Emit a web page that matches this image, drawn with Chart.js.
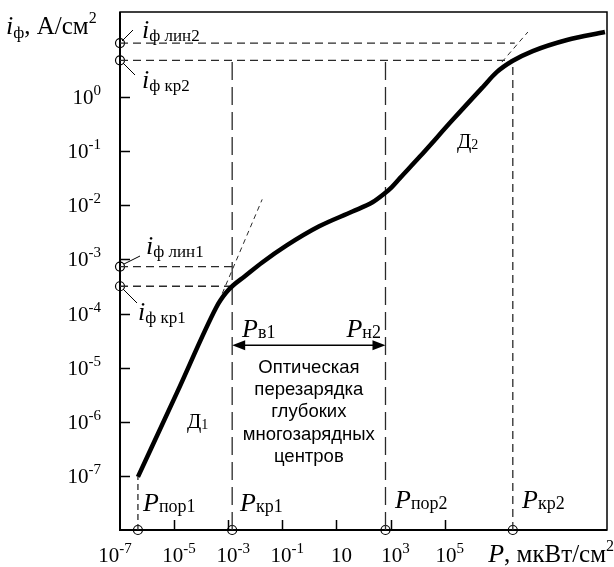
<!DOCTYPE html>
<html>
<head>
<meta charset="utf-8">
<script src="https://cdn.jsdelivr.net/npm/chart.js@4.4.0/dist/chart.umd.min.js"></script>
<style>
  body { margin: 0; background: #fff; }
  canvas { display: block; }
</style>
</head>
<body>
<canvas id="vac" width="614" height="567"></canvas>
<script>
// кривая i_ф(P), значения
const curveP = [4.6e-7, 1.29e-5, 3.6e-4, 5.1e-4, 8.4e-4, 1.5e-3, 3.9e-3, 0.018, 0.14, 2.3, 39, 215, 550, 1090, 2220, 1.19e4, 1.98e5, 2.55e6, 8.4e6, 3.3e7, 1.8e8, 3.3e9, 8.4e10];
const curveI = [9.6e-8, 3.5e-6, 1.3e-4, 1.74e-4, 2.45e-4, 3.3e-4, 4.8e-4, 8.8e-4, 1.8e-3, 4.1e-3, 7.7e-3, 0.0114, 0.016, 0.0216, 0.0319, 0.079, 0.381, 1.53, 2.9, 4.7, 7.1, 11.4, 16];

// касательные к линейным участкам
const tan1P = [6e-4, 0.018];
const tan1I = [2.35e-4, 0.0129];
const tan2P = [1.3e7, 1.19e8];
const tan2I = [4.45, 16];

// характерные мощности: P_пор1, P_кр1, P_пор2, P_кр2
const critP = [4.6e-7, 1.4e-3, 650, 3.3e7];
// характерные токи: i_лин2, i_кр2, i_лин1, i_кр1
const critI = [10, 4.8, 7.4e-4, 3.2e-4];
const lin2EndP = 3.9e7;

const xTickExp = [-7, -5, -3, -1, 1, 3, 5];
const yTickExp = [0, -1, -2, -3, -4, -5, -6, -7];
const arrowI = 2.6e-5;

const xMin = 1e-7, xMax = 1e11, yMin = 1e-8, yMax = 37.5;

const SERIF = '"Liberation Serif", "Times New Roman", serif';
const SANS = '"Liberation Sans", Arial, sans-serif';

const pts = (xs, ys) => xs.map((v, i) => ({ x: v, y: ys[i] }));
const seg = (x1, y1, x2, y2) => [{ x: x1, y: y1 }, { x: x2, y: y2 }];

function guide(data, dash) {
  return { data, borderColor: '#2a2a2a', borderWidth: 1.3, borderDash: dash, pointRadius: 0, fill: false, tension: 0 };
}

function rich(ctx, parts, x, y, align) {
  let w = 0;
  parts.forEach(p => { ctx.font = p.f; p.w = ctx.measureText(p.t).width; w += p.w; });
  let cx = align === 'right' ? x - w : align === 'center' ? x - w / 2 : x;
  ctx.textAlign = 'left';
  ctx.textBaseline = 'alphabetic';
  parts.forEach(p => { ctx.font = p.f; ctx.fillText(p.t, cx, y + (p.dy || 0)); cx += p.w; });
}

const big = '21px ' + SERIF, sup = '15px ' + SERIF;
const it = 'italic 26px ' + SERIF, sub = '18px ' + SERIF;
const itI = 'italic 26px ' + SERIF, subI = '17px ' + SERIF;

const tenPow = e => e === 1 ? [{ t: '10', f: big }] : [{ t: '10', f: big }, { t: String(e), f: sup, dy: -9 }];

const overlay = {
  id: 'overlay',
  beforeDatasetsDraw(chart) {
    const { ctx, chartArea: a, scales: { x, y } } = chart;
    ctx.save();
    ctx.strokeStyle = '#000';
    ctx.lineWidth = 1.5;
    ctx.strokeRect(a.left, a.top, a.right - a.left, a.bottom - a.top);
    ctx.lineWidth = 2;
    ctx.beginPath();
    ctx.moveTo(a.left, a.top); ctx.lineTo(a.left, a.bottom); ctx.lineTo(a.right, a.bottom);
    ctx.stroke();
    ctx.lineWidth = 1.5;
    ctx.beginPath();
    yTickExp.forEach(e => {
      const py = Math.round(y.getPixelForValue(Math.pow(10, e))) + 0.5;
      ctx.moveTo(a.left, py); ctx.lineTo(a.left + 10, py);
    });
    xTickExp.slice(1).forEach(e => {
      const px = Math.round(x.getPixelForValue(Math.pow(10, e))) + 0.5;
      ctx.moveTo(px, a.bottom); ctx.lineTo(px, a.bottom - 10);
    });
    ctx.stroke();
    ctx.restore();
  },
  afterDraw(chart) {
    const { ctx, chartArea: a, scales: { x, y } } = chart;
    ctx.save();
    ctx.fillStyle = '#000';
    ctx.strokeStyle = '#000';

    // подписи делений
    yTickExp.forEach(e => rich(ctx, tenPow(e), a.left - 19, y.getPixelForValue(Math.pow(10, e)) + 7, 'right'));
    xTickExp.forEach(e => rich(ctx, tenPow(e), x.getPixelForValue(Math.pow(10, e)) + (e === -7 ? -5 : 5), a.bottom + 32, 'center'));

    // названия осей
    rich(ctx, [{ t: 'i', f: itI }, { t: 'ф', f: subI, dy: 4 }, { t: ', А/см', f: '25px ' + SERIF }, { t: '2', f: '16px ' + SERIF, dy: -11 }], 6, 34, 'left');
    rich(ctx, [{ t: 'P', f: it }, { t: ', мкВт/см', f: '25px ' + SERIF }, { t: '2', f: '16px ' + SERIF, dy: -11 }], 614, a.bottom + 32, 'right');

    // подписи токов у оси
    rich(ctx, [{ t: 'i', f: itI }, { t: 'ф лин2', f: subI, dy: 3 }], 142, 38);
    rich(ctx, [{ t: 'i', f: itI }, { t: 'ф кр2', f: subI, dy: 3 }], 142, 88);
    rich(ctx, [{ t: 'i', f: itI }, { t: 'ф лин1', f: subI, dy: 3 }], 146, 254);
    rich(ctx, [{ t: 'i', f: itI }, { t: 'ф кр1', f: subI, dy: 3 }], 138, 320);
    ctx.lineWidth = 1;
    ctx.beginPath();
    ctx.moveTo(122, 41); ctx.lineTo(133, 30);
    ctx.moveTo(123, 63); ctx.lineTo(135, 75);
    ctx.moveTo(124, 264); ctx.lineTo(140, 256);
    ctx.moveTo(123, 289); ctx.lineTo(137, 303);
    ctx.stroke();

    // подписи мощностей
    rich(ctx, [{ t: 'P', f: it }, { t: 'пор1', f: sub, dy: 1 }], 143, 511);
    rich(ctx, [{ t: 'P', f: it }, { t: 'кр1', f: sub, dy: 1 }], 240, 511);
    rich(ctx, [{ t: 'P', f: it }, { t: 'пор2', f: sub, dy: 1 }], 395, 508);
    rich(ctx, [{ t: 'P', f: it }, { t: 'кр2', f: sub, dy: 1 }], 522, 508);
    rich(ctx, [{ t: 'P', f: it }, { t: 'в1', f: sub, dy: 1 }], 242, 337);
    rich(ctx, [{ t: 'P', f: it }, { t: 'н2', f: sub, dy: 1 }], 381, 337, 'right');

    // участки Д1, Д2
    rich(ctx, [{ t: 'Д', f: '21px ' + SERIF }, { t: '1', f: '14px ' + SERIF, dy: 1 }], 187, 428);
    rich(ctx, [{ t: 'Д', f: '21px ' + SERIF }, { t: '2', f: '14px ' + SERIF, dy: 1 }], 457, 148);

    // стрелка между P_в1 и P_н2
    const x1 = x.getPixelForValue(critP[1]), x2 = x.getPixelForValue(critP[2]);
    const ay = y.getPixelForValue(arrowI);
    ctx.lineWidth = 1.5;
    ctx.beginPath(); ctx.moveTo(x1 + 8, ay); ctx.lineTo(x2 - 8, ay); ctx.stroke();
    ctx.beginPath();
    ctx.moveTo(x1, ay); ctx.lineTo(x1 + 13, ay - 5); ctx.lineTo(x1 + 13, ay + 5); ctx.closePath();
    ctx.moveTo(x2, ay); ctx.lineTo(x2 - 13, ay - 5); ctx.lineTo(x2 - 13, ay + 5); ctx.closePath();
    ctx.fill();

    const lines = ['Оптическая', 'перезарядка', 'глубоких', 'многозарядных', 'центров'];
    ctx.font = '18.5px ' + SANS;
    ctx.textAlign = 'center';
    lines.forEach((s, i) => ctx.fillText(s, (x1 + x2) / 2, 373 + i * 22.2));
    ctx.restore();
  }
};

const ctx = document.getElementById('vac').getContext('2d');
const chart = new Chart(ctx, {
  type: 'line',
  data: {
    datasets: [
      { data: pts(curveP, curveI), borderColor: '#000', borderWidth: 4.5, pointRadius: 0, fill: false, cubicInterpolationMode: 'monotone', borderJoinStyle: 'round' },
      { data: pts(tan1P, tan1I), borderColor: '#2a2a2a', borderWidth: 1, borderDash: [5, 4], pointRadius: 0, fill: false },
      { data: pts(tan2P, tan2I), borderColor: '#2a2a2a', borderWidth: 1, borderDash: [5, 4], pointRadius: 0, fill: false },
      guide(seg(xMin, critI[0], lin2EndP, critI[0]), [8, 5]),
      guide(seg(xMin, critI[1], critP[3], critI[1]), [8, 5]),
      guide(seg(xMin, critI[2], critP[1], critI[2]), [8, 5]),
      guide(seg(xMin, critI[3], critP[1], critI[3]), [8, 5]),
      guide(seg(critP[0], yMin, critP[0], curveI[0]), [6, 4]),
      guide(seg(critP[1], yMin, critP[1], critI[1]), [18, 7]),
      guide(seg(critP[2], yMin, critP[2], critI[1]), [18, 7]),
      guide(seg(critP[3], yMin, critP[3], critI[1]), [8, 5]),
      {
        data: critI.map(v => ({ x: xMin, y: v })).concat(critP.map(v => ({ x: v, y: yMin }))),
        showLine: false, pointRadius: 4.5, pointBorderWidth: 1.2,
        pointBorderColor: '#000', pointBackgroundColor: 'rgba(0,0,0,0)', clip: false
      }
    ]
  },
  options: {
    responsive: false,
    animation: false,
    layout: { padding: { left: 120, right: 7, top: 12, bottom: 37 } },
    plugins: { legend: { display: false }, tooltip: { enabled: false } },
    scales: {
      x: { type: 'logarithmic', min: xMin, max: xMax, display: false },
      y: { type: 'logarithmic', min: yMin, max: yMax, display: false }
    }
  },
  plugins: [overlay]
});
</script>
</body>
</html>
